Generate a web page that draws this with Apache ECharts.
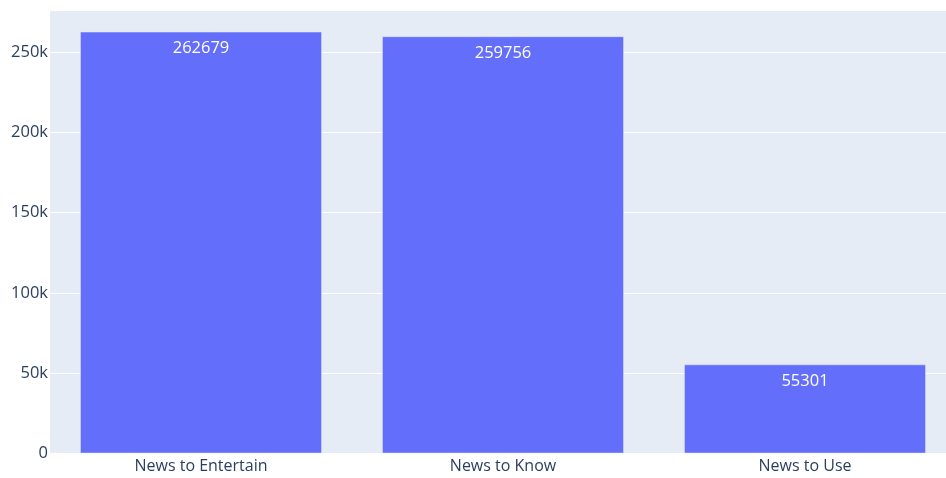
<!DOCTYPE html>
<html><head><meta charset="utf-8">
<script src="https://cdn.jsdelivr.net/npm/echarts@6/dist/echarts.min.js"></script>
<style>html,body{margin:0;padding:0;background:#fff}#c{width:946px;height:478px}</style>
</head><body><div id="c"></div>
<script>
const categories = ["News to Entertain", "News to Know", "News to Use"];
const values = [262679, 259756, 55301];
const yTicks = [0, 50000, 100000, 150000, 200000, 250000];

const chart = echarts.init(document.getElementById('c'), null, {renderer: 'canvas'});
chart.setOption({
  animation: false,
  backgroundColor: '#ffffff',
  textStyle: {fontFamily: '"Open Sans", sans-serif'},
  grid: {left: 50, width: 906, top: 10.7, height: 442.6, outerBoundsMode: 'none', containLabel: false,
    show: true, backgroundColor: '#E5ECF6', borderWidth: 0},
  xAxis: {
    type: 'category', data: categories,
    axisLine: {show: false}, axisTick: {show: false},
    axisLabel: {color: '#2a3f5f', fontSize: 16, margin: 5, fontFamily: '"Open Sans", sans-serif'}
  },
  yAxis: {
    type: 'value', min: 0, max: 275813, interval: 50000,
    axisLine: {show: false}, axisTick: {show: false},
    splitLine: {lineStyle: {color: '#ffffff', width: 1}},
    axisLabel: {
      color: '#2a3f5f', fontSize: 16.5, margin: 2, showMaxLabel: false,
      fontFamily: '"Open Sans", sans-serif',
      formatter: v => yTicks.includes(v) ? (v === 0 ? '0' : (v / 1000) + 'k') : ''
    }
  },
  series: [{
    type: 'bar', data: values, barWidth: '80%',
    itemStyle: {color: '#636efa', borderColor: '#E5ECF6', borderWidth: 0.5},
    label: {show: true, position: 'insideTop', distance: 8, color: '#ffffff', fontSize: 16.5,
      fontFamily: '"Open Sans", sans-serif'}
  }]
});
</script></body></html>
